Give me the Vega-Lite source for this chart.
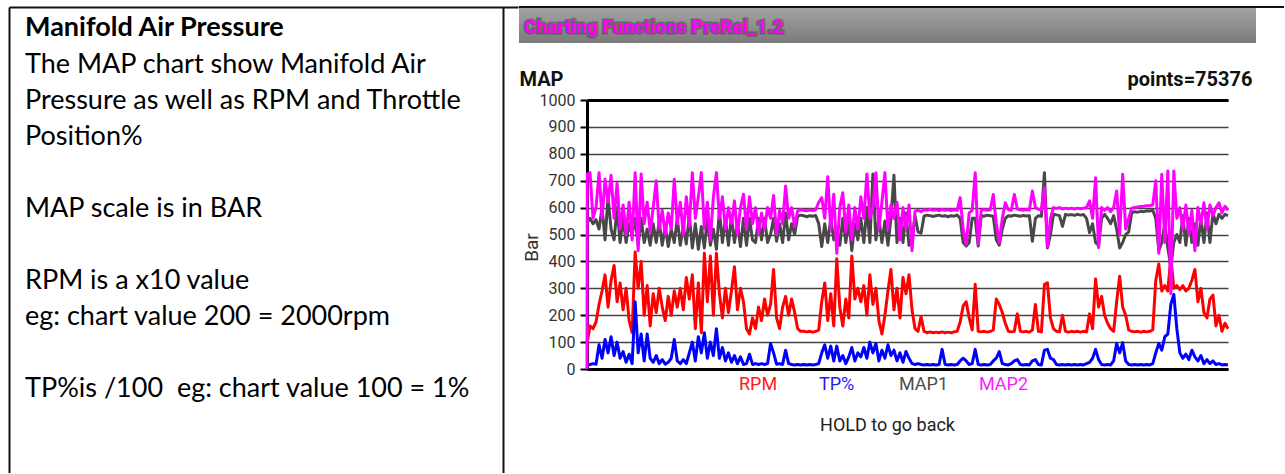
{
  "$schema": "https://vega.github.io/schema/vega-lite/v6.json",
  "background": "white",
  "padding": {"left": 9, "top": 6, "right": 0, "bottom": 0},
  "spacing": 0,
  "resolve": {"scale": {"color": "independent"}, "legend": {"color": "independent"}},
  "hconcat": [
    {
      "width": 509,
      "height": 466,
      "layer": [
        {
          "data": {"values": [{"t": "Manifold Air Pressure"}]},
          "mark": {"type": "text", "font": "Lato", "fontSize": 27, "fontWeight": "bold", "align": "left", "baseline": "alphabetic", "dx": 16, "dy": 29, "color": "#000000"},
          "encoding": {
            "text": {"field": "t", "type": "nominal"},
            "x": {"datum": 0, "type": "quantitative", "scale": {"domain": [0, 1]}, "axis": {"orient": "top", "domain": true, "domainColor": "#111111", "domainWidth": 2, "ticks": false, "labels": false, "grid": false, "title": null}},
            "y": {"datum": 1, "type": "quantitative", "scale": {"domain": [0, 1]}, "axis": {"orient": "left", "domain": true, "domainColor": "#111111", "domainWidth": 2, "ticks": false, "labels": false, "grid": false, "title": null}}
          }
        },
        {
          "data": {"values": [{"t": "The MAP chart show Manifold Air\nPressure as well as RPM and Throttle\nPosition%"}]},
          "mark": {"type": "text", "font": "Lato", "fontSize": 27, "align": "left", "baseline": "alphabetic", "dx": 16, "dy": 66, "lineBreak": "\n", "lineHeight": 36, "color": "#000000"},
          "encoding": {
            "text": {"field": "t", "type": "nominal"},
            "x": {"datum": 0, "type": "quantitative"},
            "y": {"datum": 1, "type": "quantitative", "axis": {"orient": "right", "offset": -15, "domain": true, "domainColor": "#111111", "domainWidth": 2, "ticks": false, "labels": false, "grid": false, "title": null}}
          }
        },
        {
          "data": {"values": [{"t": "MAP scale is in BAR"}]},
          "mark": {"type": "text", "font": "Lato", "fontSize": 27, "align": "left", "baseline": "alphabetic", "dx": 16, "dy": 210, "color": "#000000"},
          "encoding": {
            "text": {"field": "t", "type": "nominal"},
            "x": {"datum": 0, "type": "quantitative"},
            "y": {"datum": 1, "type": "quantitative", "axis": null}
          }
        },
        {
          "data": {"values": [{"t": "RPM is a x10 value\neg: chart value 200 = 2000rpm"}]},
          "mark": {"type": "text", "font": "Lato", "fontSize": 27, "align": "left", "baseline": "alphabetic", "dx": 16, "dy": 282, "lineBreak": "\n", "lineHeight": 36, "color": "#000000"},
          "encoding": {
            "text": {"field": "t", "type": "nominal"},
            "x": {"datum": 0, "type": "quantitative"},
            "y": {"datum": 1, "type": "quantitative", "axis": null}
          }
        },
        {
          "data": {"values": [{"t": "TP%is /100\u00a0 eg: chart value 100 = 1%"}]},
          "mark": {"type": "text", "font": "Lato", "fontSize": 27, "align": "left", "baseline": "alphabetic", "dx": 16, "dy": 390, "color": "#000000"},
          "encoding": {
            "text": {"field": "t", "type": "nominal"},
            "x": {"datum": 0, "type": "quantitative"},
            "y": {"datum": 1, "type": "quantitative", "axis": null}
          }
        }
      ],
      "resolve": {"axis": {"y": "independent"}}
    },
    {
      "resolve": {"scale": {"color": "independent"}, "legend": {"color": "independent"}},
      "vconcat": [
        {
          "width": 697,
          "height": 36,
          "layer": [
            {
              "data": {"values": [{"t": "bar"}]},
              "mark": {"type": "rect", "fill": {"gradient": "linear", "x1": 0, "y1": 0, "x2": 0, "y2": 1, "stops": [{"offset": 0, "color": "#a4a4a4"}, {"offset": 1, "color": "#7b7b7b"}]}},
              "encoding": {
                "x": {"datum": -0.09756, "type": "quantitative", "scale": {"domain": [0, 1], "nice": false, "zero": false}, "axis": null},
                "x2": {"datum": 0.95983},
                "y": {"datum": 0, "type": "quantitative", "scale": {"domain": [0, 1], "nice": false}, "axis": null},
                "y2": {"datum": 1}
              }
            },
            {
              "data": {"values": [{"t": "border"}]},
              "mark": {"type": "rule", "color": "#111111", "strokeWidth": 2},
              "encoding": {
                "x": {"datum": -0.09756, "type": "quantitative", "axis": null},
                "x2": {"datum": 1},
                "y": {"datum": 1, "type": "quantitative", "axis": null}
              }
            },
            {
              "data": {"values": [{"t": "Charting Functions PreRel_1.2"}]},
              "mark": {"type": "text", "font": "Roboto", "fontSize": 19, "fontWeight": "bold", "align": "left", "baseline": "alphabetic", "dx": 5, "dy": 8, "fill": "#333333", "stroke": "#333333", "strokeWidth": 3, "opacity": 0.45},
              "encoding": {"text": {"field": "t", "type": "nominal"}, "x": {"datum": -0.09756, "type": "quantitative", "axis": null}, "y": {"datum": 0.5, "type": "quantitative", "axis": null}}
            },
            {
              "data": {"values": [{"t": "Charting Functions PreRel_1.2"}]},
              "mark": {"type": "text", "font": "Roboto", "fontSize": 19, "fontWeight": "bold", "align": "left", "baseline": "alphabetic", "dx": 5, "dy": 8, "fill": "#ff00ff"},
              "encoding": {"text": {"field": "t", "type": "nominal"}, "x": {"datum": -0.09756, "type": "quantitative", "axis": null}, "y": {"datum": 0.5, "type": "quantitative", "axis": null}}
            }
          ]
        },
        {
          "width": 641,
          "height": 269,
          "data": {"values": [
            {"i":0,"rpm":100,"tp":15,"map1":545,"map2":0},
            {"i":0.1,"rpm":100,"tp":15,"map1":545,"map2":725},
            {"i":1,"rpm":160,"tp":17,"map1":560,"map2":730},
            {"i":2,"rpm":150,"tp":20,"map1":540,"map2":560},
            {"i":3,"rpm":175,"tp":18,"map1":555,"map2":600},
            {"i":4,"rpm":240,"tp":90,"map1":520,"map2":730},
            {"i":5,"rpm":290,"tp":40,"map1":600,"map2":560},
            {"i":6,"rpm":350,"tp":110,"map1":480,"map2":705},
            {"i":7,"rpm":230,"tp":60,"map1":640,"map2":620},
            {"i":8,"rpm":330,"tp":120,"map1":520,"map2":720},
            {"i":9,"rpm":385,"tp":50,"map1":480,"map2":560},
            {"i":10,"rpm":250,"tp":100,"map1":600,"map2":690},
            {"i":11,"rpm":320,"tp":40,"map1":470,"map2":520},
            {"i":12,"rpm":220,"tp":65,"map1":560,"map2":610},
            {"i":13,"rpm":300,"tp":25,"map1":470,"map2":500},
            {"i":14,"rpm":180,"tp":55,"map1":540,"map2":620},
            {"i":15,"rpm":135,"tp":20,"map1":500,"map2":480},
            {"i":16,"rpm":435,"tp":250,"map1":560,"map2":730},
            {"i":17,"rpm":300,"tp":60,"map1":460,"map2":440},
            {"i":18,"rpm":400,"tp":130,"map1":560,"map2":725},
            {"i":19,"rpm":200,"tp":30,"map1":470,"map2":540},
            {"i":20,"rpm":310,"tp":130,"map1":520,"map2":620},
            {"i":21,"rpm":160,"tp":40,"map1":460,"map2":510},
            {"i":22,"rpm":280,"tp":25,"map1":540,"map2":600},
            {"i":23,"rpm":210,"tp":50,"map1":470,"map2":700},
            {"i":24,"rpm":300,"tp":20,"map1":550,"map2":520},
            {"i":25,"rpm":230,"tp":35,"map1":460,"map2":590},
            {"i":26,"rpm":180,"tp":18,"map1":530,"map2":500},
            {"i":27,"rpm":270,"tp":25,"map1":455,"map2":580},
            {"i":28,"rpm":200,"tp":40,"map1":520,"map2":520},
            {"i":29,"rpm":290,"tp":110,"map1":470,"map2":705},
            {"i":30,"rpm":230,"tp":30,"map1":560,"map2":540},
            {"i":31,"rpm":300,"tp":20,"map1":460,"map2":620},
            {"i":32,"rpm":220,"tp":35,"map1":530,"map2":500},
            {"i":33,"rpm":340,"tp":20,"map1":465,"map2":640},
            {"i":34,"rpm":260,"tp":60,"map1":570,"map2":530},
            {"i":35,"rpm":350,"tp":100,"map1":450,"map2":730},
            {"i":36,"rpm":150,"tp":30,"map1":540,"map2":560},
            {"i":37,"rpm":320,"tp":120,"map1":445,"map2":640},
            {"i":38,"rpm":135,"tp":60,"map1":530,"map2":730},
            {"i":39,"rpm":430,"tp":135,"map1":450,"map2":520},
            {"i":40,"rpm":250,"tp":40,"map1":560,"map2":620},
            {"i":41,"rpm":420,"tp":100,"map1":460,"map2":480},
            {"i":42,"rpm":200,"tp":50,"map1":520,"map2":640},
            {"i":43,"rpm":430,"tp":150,"map1":445,"map2":730},
            {"i":44,"rpm":280,"tp":40,"map1":590,"map2":560},
            {"i":45,"rpm":190,"tp":80,"map1":470,"map2":640},
            {"i":46,"rpm":300,"tp":30,"map1":560,"map2":520},
            {"i":47,"rpm":210,"tp":60,"map1":460,"map2":600},
            {"i":48,"rpm":290,"tp":25,"map1":570,"map2":540},
            {"i":49,"rpm":380,"tp":50,"map1":470,"map2":625},
            {"i":50,"rpm":220,"tp":20,"map1":540,"map2":500},
            {"i":51,"rpm":300,"tp":45,"map1":455,"map2":600},
            {"i":52,"rpm":250,"tp":17,"map1":560,"map2":650},
            {"i":53,"rpm":150,"tp":20,"map1":460,"map2":520},
            {"i":54,"rpm":130,"tp":55,"map1":560,"map2":640},
            {"i":55,"rpm":190,"tp":17,"map1":480,"map2":540},
            {"i":56,"rpm":150,"tp":20,"map1":470,"map2":600},
            {"i":57,"rpm":230,"tp":17,"map1":560,"map2":500},
            {"i":58,"rpm":180,"tp":20,"map1":480,"map2":580},
            {"i":59,"rpm":260,"tp":17,"map1":560,"map2":520},
            {"i":60,"rpm":200,"tp":20,"map1":470,"map2":600},
            {"i":61,"rpm":240,"tp":95,"map1":500,"map2":560},
            {"i":62,"rpm":370,"tp":60,"map1":560,"map2":645},
            {"i":63,"rpm":190,"tp":18,"map1":475,"map2":500},
            {"i":64,"rpm":150,"tp":20,"map1":540,"map2":590},
            {"i":65,"rpm":230,"tp":17,"map1":470,"map2":540},
            {"i":66,"rpm":270,"tp":70,"map1":580,"map2":680},
            {"i":67,"rpm":200,"tp":20,"map1":480,"map2":560},
            {"i":68,"rpm":260,"tp":17,"map1":540,"map2":600},
            {"i":69,"rpm":210,"tp":15,"map1":500,"map2":530},
            {"i":70,"rpm":150,"tp":17,"map1":568,"map2":588},
            {"i":71,"rpm":140,"tp":15,"map1":572,"map2":592},
            {"i":72,"rpm":140,"tp":17,"map1":570,"map2":590},
            {"i":73,"rpm":138,"tp":15,"map1":566,"map2":588},
            {"i":74,"rpm":140,"tp":17,"map1":570,"map2":591},
            {"i":75,"rpm":137,"tp":15,"map1":568,"map2":589},
            {"i":76,"rpm":140,"tp":17,"map1":571,"map2":592},
            {"i":77,"rpm":145,"tp":20,"map1":540,"map2":620},
            {"i":78,"rpm":250,"tp":60,"map1":455,"map2":637},
            {"i":79,"rpm":320,"tp":90,"map1":540,"map2":560},
            {"i":80,"rpm":180,"tp":40,"map1":470,"map2":715},
            {"i":81,"rpm":280,"tp":85,"map1":560,"map2":520},
            {"i":82,"rpm":160,"tp":30,"map1":480,"map2":650},
            {"i":83,"rpm":410,"tp":85,"map1":520,"map2":430},
            {"i":84,"rpm":230,"tp":30,"map1":460,"map2":600},
            {"i":85,"rpm":160,"tp":50,"map1":560,"map2":655},
            {"i":86,"rpm":260,"tp":20,"map1":470,"map2":510},
            {"i":87,"rpm":190,"tp":45,"map1":550,"map2":610},
            {"i":88,"rpm":420,"tp":80,"map1":440,"map2":480},
            {"i":89,"rpm":260,"tp":30,"map1":540,"map2":600},
            {"i":90,"rpm":300,"tp":60,"map1":480,"map2":520},
            {"i":91,"rpm":250,"tp":45,"map1":560,"map2":640},
            {"i":92,"rpm":310,"tp":80,"map1":470,"map2":560},
            {"i":93,"rpm":200,"tp":40,"map1":600,"map2":725},
            {"i":94,"rpm":350,"tp":100,"map1":470,"map2":560},
            {"i":95,"rpm":240,"tp":60,"map1":725,"map2":600},
            {"i":96,"rpm":300,"tp":95,"map1":480,"map2":730},
            {"i":97,"rpm":180,"tp":30,"map1":560,"map2":520},
            {"i":98,"rpm":130,"tp":70,"map1":470,"map2":620},
            {"i":99,"rpm":200,"tp":40,"map1":550,"map2":730},
            {"i":100,"rpm":290,"tp":90,"map1":460,"map2":520},
            {"i":101,"rpm":370,"tp":50,"map1":560,"map2":610},
            {"i":102,"rpm":220,"tp":70,"map1":720,"map2":560},
            {"i":103,"rpm":300,"tp":30,"map1":470,"map2":620},
            {"i":104,"rpm":190,"tp":60,"map1":560,"map2":480},
            {"i":105,"rpm":340,"tp":25,"map1":470,"map2":600},
            {"i":106,"rpm":280,"tp":65,"map1":580,"map2":520},
            {"i":107,"rpm":350,"tp":40,"map1":460,"map2":610},
            {"i":108,"rpm":220,"tp":20,"map1":480,"map2":440},
            {"i":109,"rpm":150,"tp":17,"map1":570,"map2":587},
            {"i":110,"rpm":140,"tp":20,"map1":510,"map2":590},
            {"i":111,"rpm":195,"tp":17,"map1":505,"map2":585},
            {"i":112,"rpm":140,"tp":15,"map1":568,"map2":592},
            {"i":113,"rpm":135,"tp":17,"map1":572,"map2":590},
            {"i":114,"rpm":138,"tp":15,"map1":570,"map2":594},
            {"i":115,"rpm":135,"tp":17,"map1":567,"map2":590},
            {"i":116,"rpm":137,"tp":15,"map1":570,"map2":592},
            {"i":117,"rpm":135,"tp":17,"map1":572,"map2":589},
            {"i":118,"rpm":138,"tp":73,"map1":568,"map2":593},
            {"i":119,"rpm":135,"tp":17,"map1":570,"map2":590},
            {"i":120,"rpm":137,"tp":15,"map1":566,"map2":592},
            {"i":121,"rpm":135,"tp":17,"map1":570,"map2":589},
            {"i":122,"rpm":138,"tp":15,"map1":568,"map2":592},
            {"i":123,"rpm":140,"tp":17,"map1":572,"map2":590},
            {"i":124,"rpm":175,"tp":30,"map1":560,"map2":637},
            {"i":125,"rpm":235,"tp":40,"map1":470,"map2":520},
            {"i":126,"rpm":250,"tp":30,"map1":457,"map2":463},
            {"i":127,"rpm":190,"tp":17,"map1":470,"map2":580},
            {"i":128,"rpm":145,"tp":20,"map1":560,"map2":590},
            {"i":129,"rpm":315,"tp":73,"map1":560,"map2":730},
            {"i":130,"rpm":140,"tp":17,"map1":457,"map2":465},
            {"i":131,"rpm":138,"tp":15,"map1":570,"map2":590},
            {"i":132,"rpm":140,"tp":17,"map1":568,"map2":593},
            {"i":133,"rpm":137,"tp":15,"map1":572,"map2":590},
            {"i":134,"rpm":140,"tp":17,"map1":570,"map2":592},
            {"i":135,"rpm":145,"tp":30,"map1":568,"map2":649},
            {"i":136,"rpm":260,"tp":40,"map1":480,"map2":540},
            {"i":137,"rpm":240,"tp":65,"map1":460,"map2":470},
            {"i":138,"rpm":210,"tp":20,"map1":520,"map2":560},
            {"i":139,"rpm":170,"tp":17,"map1":560,"map2":618},
            {"i":140,"rpm":140,"tp":15,"map1":570,"map2":592},
            {"i":141,"rpm":138,"tp":20,"map1":568,"map2":590},
            {"i":142,"rpm":140,"tp":30,"map1":572,"map2":649},
            {"i":143,"rpm":205,"tp":35,"map1":570,"map2":595},
            {"i":144,"rpm":140,"tp":17,"map1":568,"map2":592},
            {"i":145,"rpm":138,"tp":15,"map1":571,"map2":590},
            {"i":146,"rpm":140,"tp":17,"map1":569,"map2":593},
            {"i":147,"rpm":137,"tp":15,"map1":570,"map2":591},
            {"i":148,"rpm":145,"tp":30,"map1":475,"map2":662},
            {"i":149,"rpm":240,"tp":35,"map1":560,"map2":600},
            {"i":150,"rpm":140,"tp":17,"map1":570,"map2":594},
            {"i":151,"rpm":138,"tp":15,"map1":568,"map2":592},
            {"i":152,"rpm":315,"tp":70,"map1":730,"map2":674},
            {"i":153,"rpm":320,"tp":73,"map1":450,"map2":455},
            {"i":154,"rpm":190,"tp":40,"map1":500,"map2":560},
            {"i":155,"rpm":150,"tp":35,"map1":575,"map2":600},
            {"i":156,"rpm":140,"tp":17,"map1":573,"map2":597},
            {"i":157,"rpm":138,"tp":15,"map1":570,"map2":600},
            {"i":158,"rpm":200,"tp":17,"map1":530,"map2":595},
            {"i":159,"rpm":140,"tp":15,"map1":575,"map2":598},
            {"i":160,"rpm":137,"tp":17,"map1":572,"map2":596},
            {"i":161,"rpm":140,"tp":15,"map1":574,"map2":598},
            {"i":162,"rpm":138,"tp":17,"map1":571,"map2":595},
            {"i":163,"rpm":140,"tp":15,"map1":575,"map2":598},
            {"i":164,"rpm":137,"tp":17,"map1":572,"map2":596},
            {"i":165,"rpm":140,"tp":15,"map1":574,"map2":598},
            {"i":166,"rpm":138,"tp":20,"map1":560,"map2":600},
            {"i":167,"rpm":205,"tp":25,"map1":507,"map2":625},
            {"i":168,"rpm":150,"tp":40,"map1":540,"map2":560},
            {"i":169,"rpm":335,"tp":73,"map1":470,"map2":711},
            {"i":170,"rpm":230,"tp":35,"map1":460,"map2":451},
            {"i":171,"rpm":270,"tp":17,"map1":560,"map2":600},
            {"i":172,"rpm":200,"tp":15,"map1":575,"map2":590},
            {"i":173,"rpm":170,"tp":17,"map1":560,"map2":600},
            {"i":174,"rpm":150,"tp":15,"map1":540,"map2":585},
            {"i":175,"rpm":140,"tp":30,"map1":570,"map2":600},
            {"i":176,"rpm":250,"tp":95,"map1":520,"map2":662},
            {"i":177,"rpm":345,"tp":60,"map1":450,"map2":500},
            {"i":178,"rpm":230,"tp":98,"map1":470,"map2":724},
            {"i":179,"rpm":200,"tp":30,"map1":500,"map2":520},
            {"i":180,"rpm":145,"tp":17,"map1":510,"map2":560},
            {"i":181,"rpm":140,"tp":15,"map1":580,"map2":598},
            {"i":182,"rpm":138,"tp":17,"map1":585,"map2":600},
            {"i":183,"rpm":140,"tp":15,"map1":583,"map2":602},
            {"i":184,"rpm":137,"tp":17,"map1":586,"map2":604},
            {"i":185,"rpm":140,"tp":15,"map1":585,"map2":605},
            {"i":186,"rpm":138,"tp":17,"map1":588,"map2":607},
            {"i":187,"rpm":140,"tp":15,"map1":587,"map2":608},
            {"i":188,"rpm":145,"tp":20,"map1":590,"map2":610},
            {"i":189,"rpm":330,"tp":60,"map1":560,"map2":700},
            {"i":190,"rpm":390,"tp":95,"map1":440,"map2":430},
            {"i":191,"rpm":290,"tp":70,"map1":470,"map2":724},
            {"i":192,"rpm":310,"tp":120,"map1":540,"map2":470},
            {"i":193,"rpm":290,"tp":130,"map1":450,"map2":736},
            {"i":194,"rpm":415,"tp":240,"map1":380,"map2":280},
            {"i":195,"rpm":300,"tp":277,"map1":470,"map2":736},
            {"i":196,"rpm":310,"tp":150,"map1":500,"map2":560},
            {"i":197,"rpm":295,"tp":60,"map1":470,"map2":600},
            {"i":198,"rpm":310,"tp":40,"map1":570,"map2":520},
            {"i":199,"rpm":290,"tp":55,"map1":460,"map2":610},
            {"i":200,"rpm":300,"tp":35,"map1":560,"map2":500},
            {"i":201,"rpm":330,"tp":70,"map1":470,"map2":590},
            {"i":202,"rpm":370,"tp":45,"map1":540,"map2":440},
            {"i":203,"rpm":250,"tp":30,"map1":460,"map2":600},
            {"i":204,"rpm":300,"tp":50,"map1":560,"map2":540},
            {"i":205,"rpm":210,"tp":20,"map1":470,"map2":618},
            {"i":206,"rpm":190,"tp":35,"map1":580,"map2":520},
            {"i":207,"rpm":260,"tp":20,"map1":470,"map2":610},
            {"i":208,"rpm":275,"tp":30,"map1":580,"map2":570},
            {"i":209,"rpm":160,"tp":17,"map1":540,"map2":600},
            {"i":210,"rpm":200,"tp":20,"map1":575,"map2":618},
            {"i":211,"rpm":140,"tp":15,"map1":560,"map2":580},
            {"i":212,"rpm":170,"tp":17,"map1":575,"map2":605},
            {"i":213,"rpm":150,"tp":15,"map1":570,"map2":590}
          ]},
          "layer": [
            {
              "mark": {"type": "line", "strokeWidth": 3, "strokeJoin": "round"},
              "encoding": {
                "x": {"field": "i", "type": "quantitative", "scale": {"domain": [0, 213], "nice": false, "zero": false},
                  "axis": {"orient": "bottom", "domain": true, "domainColor": "#000000", "domainWidth": 3, "ticks": false, "labels": false, "grid": false,
                    "title": "HOLD to go back", "titleFont": "Roboto", "titleFontSize": 18, "titleFontWeight": "normal", "titleColor": "#222222",
                    "titleX": 300, "titleY": 61, "titleAlign": "center", "titleBaseline": "alphabetic"}},
                "y": {"field": "rpm", "type": "quantitative", "scale": {"domain": [0, 1000], "nice": false},
                  "axis": {"orient": "left", "values": [0, 100, 200, 300, 400, 500, 600, 700, 800, 900, 1000], "format": "d",
                    "domain": true, "domainColor": "#000000", "domainWidth": 3,
                    "ticks": true, "tickColor": "#000000", "tickSize": 7, "tickWidth": 2,
                    "labels": true, "labelFont": "Roboto", "labelFontSize": 16, "labelColor": "#333333", "labelPadding": 5, "labelFlush": false, "labelOverlap": false,
                    "grid": true, "gridColor": "#444444", "gridWidth": 1.4,
                    "title": "Bar", "titleFont": "Roboto", "titleFontSize": 19, "titleFontWeight": "normal", "titleColor": "#333333",
                    "titleX": -56, "titleY": 147, "titleAngle": -90, "titleAlign": "center", "titleBaseline": "middle"}},
                "color": {"datum": "RPM", "type": "nominal",
                  "scale": {"domain": ["RPM", "TP%", "MAP1", "MAP2"], "range": ["#ff0000", "#0000ff", "#484848", "#ff00ff"]},
                  "legend": {"orient": "none", "legendX": 134, "legendY": 276, "direction": "horizontal", "columns": 4, "title": null,
                    "symbolType": "circle", "symbolSize": 0, "symbolOpacity": 0, "symbolStrokeWidth": 0, "labelOffset": 0,
                    "labelFont": "Roboto", "labelFontSize": 18, "columnPadding": 12, "gridAlign": "all", "padding": 0, "labelLimit": 200,
                    "labelColor": {"expr": "datum.value === 'RPM' ? '#ff1a1a' : datum.value === 'TP%' ? '#1a1aff' : datum.value === 'MAP1' ? '#4d4d4d' : '#ff1aff'"}}}
              }
            },
            {
              "mark": {"type": "line", "strokeWidth": 3, "strokeJoin": "round"},
              "encoding": {
                "x": {"field": "i", "type": "quantitative", "axis": null},
                "y": {"field": "tp", "type": "quantitative", "axis": null},
                "color": {"datum": "TP%", "type": "nominal"}
              }
            },
            {
              "mark": {"type": "line", "strokeWidth": 3, "strokeJoin": "round"},
              "encoding": {
                "x": {"field": "i", "type": "quantitative", "axis": null},
                "y": {"field": "map1", "type": "quantitative", "axis": null},
                "color": {"datum": "MAP1", "type": "nominal"}
              }
            },
            {
              "mark": {"type": "line", "strokeWidth": 3, "strokeJoin": "round"},
              "encoding": {
                "x": {"field": "i", "type": "quantitative", "axis": null},
                "y": {"field": "map2", "type": "quantitative", "axis": null},
                "color": {"datum": "MAP2", "type": "nominal"}
              }
            },
            {
              "data": {"values": [{"t": "points"}]},
              "mark": {"type": "point", "opacity": 0},
              "encoding": {
                "x": {"datum": 0, "type": "quantitative",
                  "axis": {"orient": "top", "zindex": 1, "domain": true, "domainColor": "#000000", "domainWidth": 3, "ticks": false, "labels": false, "grid": false,
                    "title": "points=75376", "titleFont": "Roboto", "titleFontSize": 20, "titleFontWeight": "bold", "titleColor": "#111111",
                    "titleX": 665, "titleY": -15, "titleAlign": "right", "titleBaseline": "alphabetic"}},
                "y": {"datum": 500, "type": "quantitative", "axis": null}
              }
            },
            {
              "data": {"values": [{"t": "map"}]},
              "mark": {"type": "point", "opacity": 0},
              "encoding": {
                "x": {"datum": 0, "type": "quantitative",
                  "axis": {"orient": "top", "domain": false, "ticks": false, "labels": false, "grid": false,
                    "title": "MAP", "titleFont": "Roboto", "titleFontSize": 20, "titleFontWeight": "bold", "titleColor": "#111111",
                    "titleX": -68, "titleY": -15, "titleAlign": "left", "titleBaseline": "alphabetic"}},
                "y": {"datum": 500, "type": "quantitative", "axis": null}
              }
            }
          ],
          "resolve": {"axis": {"x": "independent", "y": "independent"}}
        }
      ],
      "spacing": 26
    }
  ],
  "config": {"view": {"stroke": null}}
}
